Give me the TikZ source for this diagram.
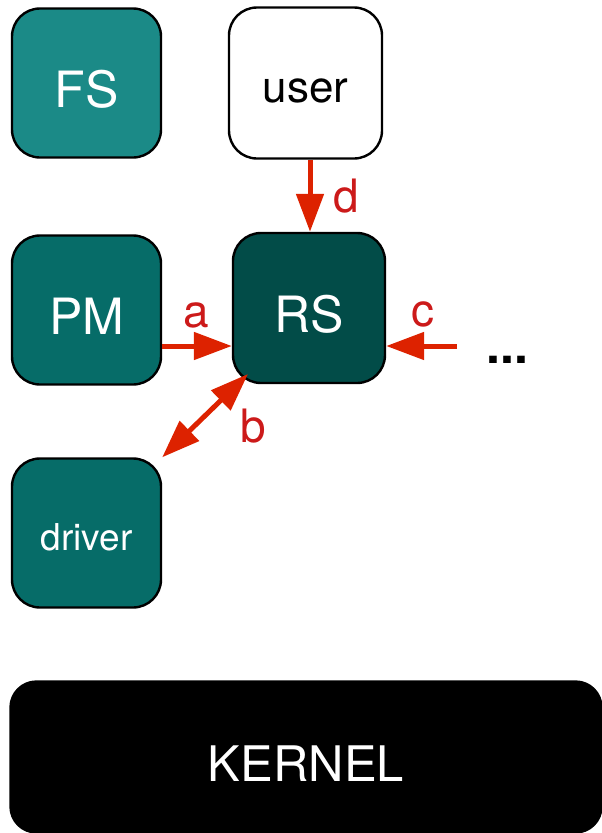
\documentclass[tikz,border=0pt]{standalone}
\usepackage{fontspec}
\setmainfont{TeX Gyre Heros}
\usetikzlibrary{arrows.meta}
\definecolor{fsteal}{RGB}{27,138,135}
\definecolor{midteal}{RGB}{6,108,104}
\definecolor{darkteal}{RGB}{2,76,72}
\definecolor{arrowred}{RGB}{221,34,0}
\definecolor{labelred}{RGB}{204,26,26}
% box captions sit a little below the geometric centre
\newcommand{\lowcap}[2][6.5pt]{\raisebox{-#1}[\height][\depth]{#2}}
\begin{document}
\begin{tikzpicture}[x=1pt,y=-1pt,
  box/.style={draw=black,line width=2.4pt,rounded corners=28pt,minimum width=149pt,minimum height=149pt,inner sep=0pt,text=white,font=\fontsize{50}{50}\selectfont},
  link/.style={draw=arrowred,line width=5pt,-{Triangle[length=38pt,width=27pt]}},
  biLink/.style={draw=arrowred,line width=5pt,{Triangle[length=38pt,width=27pt]}-{Triangle[length=38pt,width=27pt]}},
  lbl/.style={text=labelred,font=\fontsize{46}{46}\selectfont,inner sep=0pt}]
\useasboundingbox (0,0) rectangle (602,833);
\node[box,fill=fsteal] (fs) at (86.5,83) {\lowcap{FS}};
\node[box,fill=white,text=black,font=\fontsize{44}{44}\selectfont,minimum width=153pt,minimum height=151pt] (user) at (305.5,83) {\lowcap[7.5pt]{user}};
\node[box,fill=midteal] (pm) at (86.5,310) {\lowcap{PM}};
\node[box,fill=darkteal,minimum width=152pt,minimum height=150pt] (rs) at (309,308) {\lowcap{RS}};
\node[box,fill=midteal,font=\fontsize{37}{37}\selectfont] (drv) at (86.5,533) {\lowcap[4.5pt]{driver}};
\node[box,fill=black,rounded corners=26pt,minimum width=591pt,minimum height=151pt,font=\fontsize{49}{49}\selectfont] (kernel) at (306,757) {\lowcap[7pt]{KERNEL}};
\coordinate (cin) at (457,346);
\node[font=\bfseries\fontsize{50}{50}\selectfont,inner sep=0pt,anchor=base] (dots) at (507.5,363) {...};
\draw[link] (user.south -| 310,0) -- (rs.north -| 310,0);
\draw[link] (pm.east |- 0,346) -- (rs.west |- 0,346);
\draw[link] (cin) -- (rs.east |- 0,346);
\draw[biLink] (248,374) -- (drv.north east);
\node[lbl,anchor=base] (ld) at (346,212) {d};
\node[lbl,anchor=base] (la) at (196,327) {a};
\node[lbl,anchor=base] (lc) at (423,326) {c};
\node[lbl,anchor=base] (lb) at (253,442) {b};
\end{tikzpicture}
\end{document}
